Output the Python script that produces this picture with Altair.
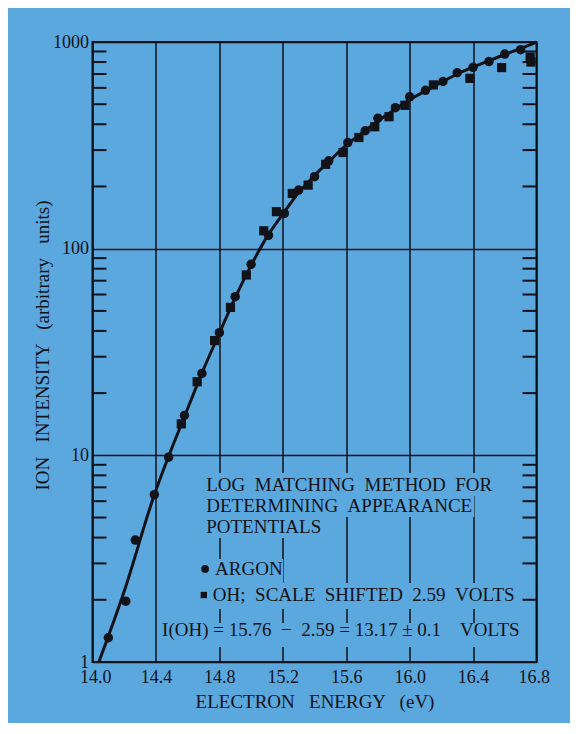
import altair as alt
import pandas as pd

# ---- data ----
curve_energy = [14.04, 14.20, 14.39, 14.48, 14.58, 14.69, 14.80, 14.90, 15.00, 15.10,
                15.20, 15.30, 15.40, 15.50, 15.60, 15.70, 15.80, 15.90, 16.00, 16.10,
                16.20, 16.30, 16.40, 16.50, 16.60, 16.70, 16.80]
curve_intensity = [1.0, 2.2, 6.45, 9.9, 15.4, 25, 39, 58, 83, 114,
                   147, 187, 226, 268, 317, 363, 415, 468, 525, 580,
                   638, 700, 755, 812, 870, 930, 1000]

argon_energy = [14.10, 14.21, 14.27, 14.39, 14.48, 14.58, 14.69, 14.80, 14.90, 15.00,
                15.11, 15.21, 15.30, 15.40, 15.49, 15.61, 15.72, 15.80, 15.91, 16.00,
                16.10, 16.21, 16.30, 16.40, 16.50, 16.60, 16.70]
argon_intensity = [1.31, 1.97, 3.89, 6.45, 9.8, 15.6, 24.9, 39.2, 58.6, 84,
                   116, 148, 192, 223, 266, 326, 372, 428, 481, 543,
                   584, 644, 710, 754, 804, 874, 918]

oh_energy = [14.56, 14.66, 14.77, 14.87, 14.97, 15.08, 15.16, 15.26, 15.36, 15.47,
             15.58, 15.68, 15.78, 15.87, 15.97, 16.15, 16.38, 16.58, 16.76, 16.765]
oh_intensity = [14.2, 22.7, 35.9, 52, 74.6, 122, 151, 185, 203, 256,
                292, 345, 389, 435, 494, 620, 667, 752, 845, 800]

x_ticks = [14.0, 14.4, 14.8, 15.2, 15.6, 16.0, 16.4, 16.8]
y_ticks = [1, 10, 100, 1000]
minor_ticks = [2.0, 3.0, 4.0, 5.0, 6.0, 7.0, 8.0, 9.0, 20.0, 30.0, 40.0, 50.0, 60.0, 70.0,
               80.0, 90.0, 200.0, 300.0, 400.0, 500.0, 600.0, 700.0, 800.0, 900.0]
# where the inward ticks sit along the frame, in eV
tick_left_span = [14.0, 14.088]
tick_right_span = [16.712, 16.8]

SP = " \u00a0"
note_text = ["LOG MATCHING METHOD FOR", "DETERMINING APPEARANCE", "POTENTIALS",
             "ARGON", "OH; SCALE SHIFTED 2.59 VOLTS",
             "I(OH) = 15.76 \u00a0\u2212 \u00a02.59 = 13.17 \u00b1 0.1 \u00a0\u00a0\u00a0VOLTS"]
note_text = [t.replace(" ", SP) if i < 5 else t for i, t in enumerate(note_text)]
note_x = [14.717, 14.717, 14.717, 14.773, 14.759, 14.439]
note_y = [7.19, 5.69, 4.49, 2.82, 2.11, 1.428]

box_x = [14.698, 14.698, 14.698, 14.666, 14.660, 14.42]
box_x2 = [16.554, 16.408, 15.449, 15.203, 16.674, 16.724]
box_lo = [6.36, 5.03, 3.98, 2.41, 1.805, 1.182]
box_hi = [8.21, 6.36, 5.03, 3.15, 2.41, 1.544]

key_x = [14.71, 14.702]
key_y = [2.82, 2.11]

# ---- styling ----
BG = "#5ba8de"
INK = "#121219"
FONT = "Liberation Serif"
W, H = 444, 620
TICK_HALF = 1.0113   # tick thickness as a ratio on the log scale (about 2 px)

xs = alt.Scale(domain=[14.0, 16.8], nice=False, zero=False)
ys = alt.Scale(type="log", domain=[1, 1000], nice=False)

curve_df = pd.DataFrame({"E": curve_energy, "I": curve_intensity})
argon_df = pd.DataFrame({"E": argon_energy, "I": argon_intensity})
oh_df = pd.DataFrame({"E": oh_energy, "I": oh_intensity})
note_df = pd.DataFrame({"t": note_text, "E": note_x, "I": note_y})
circ_key = pd.DataFrame({"E": key_x[:1], "I": key_y[:1]})
sq_key = pd.DataFrame({"E": key_x[1:], "I": key_y[1:]})

# text-backing boxes and inward frame ticks share one rect layer
rect_rows = []
for a, b, lo, hi in zip(box_x, box_x2, box_lo, box_hi):
    rect_rows.append({"E": a, "x2": b, "I": lo, "hi": hi, "c": BG})
for v in minor_ticks:
    for span in (tick_left_span, tick_right_span):
        rect_rows.append({"E": span[0], "x2": span[1], "I": v / TICK_HALF,
                          "hi": v * TICK_HALF, "c": INK})
rect_df = pd.DataFrame(rect_rows)

X_TITLE = "ELECTRON \u00a0\u00a0ENERGY \u00a0\u00a0(eV)"
Y_TITLE = "ION \u00a0\u00a0INTENSITY \u00a0\u00a0(arbitrary \u00a0\u00a0units)"

x_axis = alt.Axis(values=x_ticks, format=".1f", ticks=False, tickSize=0, domain=False,
                  grid=True, gridColor=INK, gridWidth=1.5, gridOpacity=1,
                  labelFont=FONT, labelFontSize=18, labelColor=INK, labelPadding=6,
                  labelFlush=True, labelFlushOffset=13,
                  title=X_TITLE, titleFont=FONT,
                  titleFontSize=19, titleFontWeight="normal", titleColor=INK,
                  titleY=39, titleBaseline="middle")
y_axis = alt.Axis(values=y_ticks, format="d", ticks=False, tickSize=0, domain=False,
                  grid=True, gridColor=INK, gridWidth=1.5, gridOpacity=1,
                  labelFont=FONT, labelFontSize=18, labelColor=INK, labelPadding=4,
                  labelFlush=False, labelBaseline="middle",
                  title=Y_TITLE,
                  titleFont=FONT, titleFontSize=19, titleFontWeight="normal", titleColor=INK,
                  titleX=-50.5, titleY=303, titleBaseline="middle", titleAngle=-90)

XE = alt.X("E:Q", scale=xs, axis=x_axis, title=X_TITLE)
YI = alt.Y("I:Q", scale=ys, axis=y_axis, title=Y_TITLE)

curve = alt.Chart(curve_df).mark_line(color=INK, strokeWidth=3, interpolate="monotone").encode(
    x=XE, y=YI)

rects = alt.Chart(rect_df).mark_rect(opacity=1).encode(
    x=XE, x2="x2:Q", y=YI, y2="hi:Q", color=alt.Color("c:N", scale=None))

notes = alt.Chart(note_df).mark_text(align="left", baseline="middle", font=FONT,
                                     fontSize=19, color=INK).encode(
    x=XE, y=YI, text="t:N")

key_c = alt.Chart(circ_key).mark_point(shape="circle", filled=True, size=60,
                                       color=INK, opacity=1).encode(x=XE, y=YI)
key_s = alt.Chart(sq_key).mark_point(shape="square", filled=True, size=40,
                                     color=INK, opacity=1).encode(x=XE, y=YI)

argon = alt.Chart(argon_df).mark_point(shape="circle", filled=True, size=90,
                                       color=INK, opacity=1).encode(x=XE, y=YI)
oh = alt.Chart(oh_df).mark_point(shape="square", filled=True, size=85,
                                 color=INK, opacity=1).encode(x=XE, y=YI)

chart = alt.layer(curve, rects, notes, key_c, key_s, argon, oh).properties(
    width=W, height=H,
    autosize=alt.AutoSizeParams(type="none"),
    padding={"left": 84.5, "top": 34, "right": 33.5, "bottom": 61},
    background=BG,
).configure_view(stroke=INK, strokeWidth=2, fill=None)

chart.save("out.html", embed_options={"renderer": "svg", "actions": False})
